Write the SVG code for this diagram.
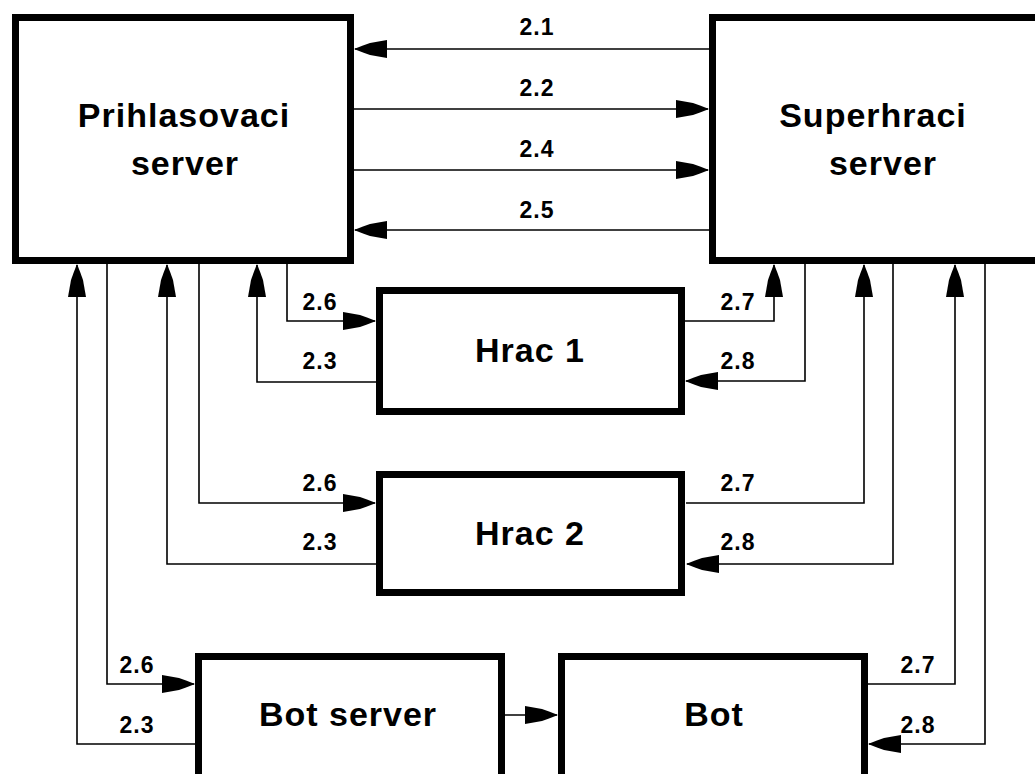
<svg xmlns="http://www.w3.org/2000/svg" width="1035" height="774" viewBox="0 0 1035 774">
<style>
.box{fill:#fff;stroke:#000;stroke-width:7}
.title{font-family:"Liberation Sans",Arial,sans-serif;font-weight:bold;font-size:34px;text-anchor:middle;fill:#000;letter-spacing:1px}
.lbl{font-family:"Liberation Sans",Arial,sans-serif;font-weight:bold;font-size:23px;text-anchor:middle;fill:#000;letter-spacing:1px}
.con{fill:none;stroke:#000;stroke-width:1.6;marker-end:url(#ah)}
</style>
<defs>
<marker id="ah" markerUnits="userSpaceOnUse" viewBox="-34 -10 36 20" markerWidth="36" markerHeight="20" refX="0" refY="0" orient="auto" overflow="visible">
<path d="M1,0 L-8,-3.5 L-15,-6 L-32,-9 L-32,9 L-15,6 L-8,3.5 Z" fill="#000"/>
</marker>
</defs>
<rect width="1035" height="774" fill="#fff"/>
<g id="connectors">
<path class="con" d="M709,49 H355"/>
<path class="con" d="M354,109 H708"/>
<path class="con" d="M354,170 H708"/>
<path class="con" d="M709,230 H355"/>
<path class="con" d="M287,264 V321 H375"/>
<path class="con" d="M376,382 H257 V265"/>
<path class="con" d="M199,264 V503 H375"/>
<path class="con" d="M376,564 H167 V265"/>
<path class="con" d="M107,264 V684 H194"/>
<path class="con" d="M195,744 H77 V265"/>
<path class="con" d="M685,321 H774 V265"/>
<path class="con" d="M805,264 V381 H686"/>
<path class="con" d="M686,503 H864 V265"/>
<path class="con" d="M893,264 V564 H687"/>
<path class="con" d="M868,684 H955 V265"/>
<path class="con" d="M985,264 V744 H869"/>
<path class="con" d="M505,715 H557"/>
</g>
<g id="labels">
<text class="lbl" x="537" y="35">2.1</text>
<text class="lbl" x="537" y="96">2.2</text>
<text class="lbl" x="537" y="157">2.4</text>
<text class="lbl" x="537" y="218">2.5</text>
<text class="lbl" x="320" y="310">2.6</text>
<text class="lbl" x="320" y="369">2.3</text>
<text class="lbl" x="320" y="491">2.6</text>
<text class="lbl" x="320" y="550">2.3</text>
<text class="lbl" x="137" y="673">2.6</text>
<text class="lbl" x="137" y="733">2.3</text>
<text class="lbl" x="738" y="310">2.7</text>
<text class="lbl" x="738" y="369">2.8</text>
<text class="lbl" x="738" y="491">2.7</text>
<text class="lbl" x="738" y="550">2.8</text>
<text class="lbl" x="918" y="673">2.7</text>
<text class="lbl" x="918" y="733">2.8</text>
</g>
<g id="prihlasovaci">
<rect class="box" x="15.5" y="17.5" width="335" height="243"/>
<text class="title" x="184" y="127">Prihlasovaci</text>
<text class="title" x="185" y="175">server</text>
</g>
<g id="superhraci">
<rect class="box" x="712.5" y="17.5" width="340" height="243"/>
<text class="title" x="873" y="127">Superhraci</text>
<text class="title" x="883" y="175">server</text>
</g>
<g id="hrac1">
<rect class="box" x="379.5" y="290.5" width="302" height="121"/>
<text class="title" x="530" y="362">Hrac 1</text>
</g>
<g id="hrac2">
<rect class="box" x="379.5" y="474.5" width="302" height="118"/>
<text class="title" x="530" y="545">Hrac 2</text>
</g>
<g id="botserver">
<rect class="box" x="198.5" y="656.5" width="303" height="130"/>
<text class="title" x="348" y="726">Bot server</text>
</g>
<g id="bot">
<rect class="box" x="561.5" y="656.5" width="303" height="130"/>
<text class="title" x="714" y="726">Bot</text>
</g>
</svg>
